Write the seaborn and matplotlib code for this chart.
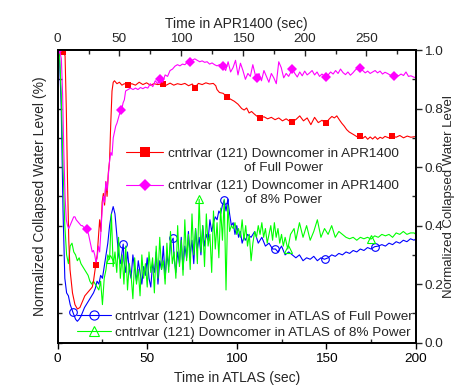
import numpy as np
import seaborn as sns
import matplotlib
matplotlib.use('Agg')
import matplotlib.pyplot as plt
from matplotlib.ticker import MultipleLocator, FormatStrFormatter
from matplotlib.legend_handler import HandlerLine2D

# ATLAS, full power (bottom time axis, sec)
atlas_full_t = [0, 1, 2, 3, 4, 5, 6, 7, 8.5, 10,
                11, 12, 13, 14, 15, 16, 17, 18, 19, 20,
                21, 22, 23, 24, 25, 26, 27, 28, 29, 30,
                31, 32, 33, 34, 35, 36.6, 37, 38, 39, 40,
                41, 42, 43, 44, 45, 46, 47, 48, 49, 50,
                51, 52, 53, 54, 55, 56, 57, 58, 59, 60,
                61, 62, 63, 64.5, 65, 66, 67, 68, 69, 70,
                71, 72, 73, 74, 75, 76, 77, 78, 79, 80,
                81, 82, 83, 84, 85, 86, 87, 88, 89, 90,
                91, 92, 93, 94, 95, 96, 97, 98, 99, 100,
                101, 102, 103, 104, 105, 106, 108, 110, 112, 114,
                116, 118, 120, 121.6, 123, 125, 127, 129, 131, 133,
                135, 137, 139, 141, 143, 145, 147, 149, 151, 153,
                155, 157, 159, 161, 163, 165, 167, 169, 171, 173,
                175, 177, 179, 181, 183, 185, 187, 189, 191, 193,
                195, 197, 199, 200]
atlas_full_level = [100, 98, 80, 45, 22, 17, 16, 13, 10.4, 8,
                    7.3, 8, 9, 10.5, 12, 13, 14, 15, 16, 17,
                    18.5, 21, 20, 23, 22, 26, 30, 34, 40, 44,
                    46.5, 44, 37, 30, 27, 33.7, 28, 24, 31, 25,
                    22, 30, 25, 21, 28, 24, 20, 26, 23, 29,
                    22, 19, 27, 24, 31, 20, 28, 25, 33, 22,
                    30, 26, 34, 35.7, 29, 24, 31, 27, 36, 25,
                    33, 29, 38, 30, 35, 27, 39, 32, 36, 30,
                    40, 33, 37, 35, 42, 38, 41, 43, 42, 45,
                    44, 47, 48.7, 45, 49, 44, 40, 41, 37, 40,
                    36, 38, 34, 36, 35, 37, 36, 38, 34, 36,
                    33, 34, 32, 32, 31, 33, 30, 31, 30, 29,
                    30, 28, 29, 28.5, 29.5, 28, 29, 28.5, 29, 30,
                    29.5, 30.5, 30, 31, 30.5, 31.5, 31, 32, 31.5, 32.5,
                    32, 32.8, 33, 33.5, 33, 34, 33.5, 34.5, 34, 35,
                    34.5, 35.5, 35, 35.5]
atlas_full_marks = [8.5, 36.6, 64.5, 93, 121.6, 149, 177]

# ATLAS, 8% power
atlas_8_t = [0, 1, 2, 3, 4, 5, 6, 7, 8, 9,
             10, 11, 12, 13, 14, 15, 16, 17, 18, 19,
             20, 21, 22, 23, 24, 25, 26, 27, 28, 29,
             30, 31, 32, 33, 34, 35, 36, 37, 38, 39,
             40, 41, 42, 43, 44, 45, 46, 47, 48, 49,
             50, 51, 52, 53, 54, 55, 56, 57, 58, 59,
             60, 61, 62, 63, 64, 65, 66, 67, 68, 69,
             70, 71, 72, 73, 74, 75, 76, 77, 78, 79,
             80, 81, 82, 83, 84, 85, 86, 87, 88, 89,
             90, 91, 92, 93, 94, 95, 96, 97, 98, 99,
             100, 101, 102, 103, 104, 105, 106, 107, 108, 109,
             110, 111, 112, 113, 114, 115, 116, 117, 118, 119,
             120, 121, 122, 123, 124, 125, 126, 127, 128.5, 130,
             132, 133, 135, 137, 139, 141, 143, 145, 147, 149,
             151, 153, 155, 157, 159, 161, 163, 165, 167, 169,
             171, 173, 175, 177, 179, 181, 183, 185, 187, 189,
             191, 193, 195, 197, 199, 200]
atlas_8_level = [100, 99, 85, 60, 40, 30, 27, 33, 34, 31,
                 30, 28, 29, 27, 26, 25, 24, 23, 21, 20,
                 21, 20, 19, 18, 21, 13, 22, 25, 30, 28.5,
                 44, 26, 31, 24, 36, 22, 30, 20, 33, 18,
                 27, 23, 15, 29, 20, 25, 16, 30, 22, 27,
                 19, 31, 24, 29, 17, 33, 22, 36, 25, 28,
                 20, 34, 24, 38, 27, 31, 22, 40, 26, 35,
                 23, 42, 28, 37, 25, 44, 30, 39, 27, 49,
                 31, 40, 26, 44, 33, 37, 24, 45, 32, 41,
                 29, 46, 35, 49, 18, 47, 38, 40, 39, 41,
                 37, 39, 36, 42, 35, 40, 33, 37, 28, 34,
                 38, 36, 40, 37, 41, 36, 39, 34, 37, 40,
                 35, 41, 36, 39, 34, 37, 33, 36, 32, 37,
                 39, 35, 41, 36, 40, 35, 38, 42, 36, 39,
                 37, 40, 36, 38, 37, 36, 35.5, 36, 35, 36,
                 35.5, 36, 35.4, 36.5, 36, 37, 36.5, 37, 36, 37.5,
                 37, 38, 37, 37.5, 37.5, 37]
atlas_8_marks = [29, 79, 128.5, 175]

# APR1400, full power (top time axis, sec)
apr_full_t = [0, 2, 4.5, 6, 7, 8, 9, 10, 12, 14,
              16, 18, 20, 22, 24, 26, 28, 29, 30.8, 32,
              33, 34, 35, 36, 37, 38, 39, 40, 41, 42,
              43, 44, 45, 46, 48, 50, 52, 54, 57, 60,
              63, 66, 69, 72, 75, 78, 81, 85, 88, 91,
              94, 97, 100, 103, 106, 109, 111, 114, 117, 120,
              123, 126, 128, 129, 131, 134, 137, 140, 143, 146,
              149, 151, 153, 155, 157, 159, 161, 164, 167, 170,
              173, 176, 179, 182, 185, 188, 190, 193, 196, 199,
              202, 205, 208, 211, 214, 217, 220, 222, 224, 226,
              228, 230, 232, 234, 236, 238, 240, 243, 245, 247,
              249, 251, 253, 255, 257, 259, 261, 263, 265, 268,
              271, 274, 277, 280, 283, 286, 289]
apr_full_level = [100, 100, 99.5, 98, 80, 55, 35, 25, 17, 13,
                  11.5, 12, 14, 16, 17, 18, 19, 21, 26.5, 30,
                  36, 42, 38, 48, 51, 47, 55, 50, 58, 62,
                  75, 86, 89, 89.5, 88.5, 89, 88, 88.5, 88, 88.5,
                  88, 89, 88.2, 88.8, 88, 88.5, 88.2, 88.5, 88, 88.7,
                  88, 88.5, 88.2, 88.6, 87.8, 88.4, 87.2, 88.6, 88.2, 88.8,
                  88.4, 88.6, 87.8, 86.5, 85.5, 85.2, 84, 83.2, 82.5, 81.5,
                  80, 79.5, 80.2, 78.5, 79, 78.2, 77.5, 76.7, 77.2, 76.5,
                  77, 76.2, 76.8, 75.8, 76.5, 75.6, 75.5, 76.3, 77.5, 75.8,
                  76.8, 74.5, 77, 75.2, 76, 75, 76.5, 77.3, 76.8, 77.5,
                  76.2, 75, 74, 72.8, 72, 71.5, 71, 70.2, 70.6, 69.8,
                  70.5, 69.5, 70.3, 69.6, 70.4, 69.5, 70.2, 69.8, 70.5, 70,
                  70.6, 70.2, 70.8, 70, 70.6, 70.2, 70.4]
apr_full_marks = [4.5, 30.8, 57, 85, 111, 137, 164, 190, 217, 245, 271]

# APR1400, 8% power
apr_8_t = [0, 1, 2, 3, 4, 5, 6, 7, 8, 9,
           10, 11, 12, 13, 14, 15, 16, 17, 18, 19,
           20, 21, 22, 23.5, 25, 26, 27, 28, 29, 30,
           31, 32, 33, 34, 35, 36, 37, 38, 39, 40,
           41, 42, 43, 44, 45, 46, 47, 48, 50, 51,
           52, 53, 54, 55, 57, 59, 61, 63, 65, 67,
           69, 71, 73, 75, 77, 79, 81, 83, 85, 87,
           89, 91, 93, 95, 97, 99, 101, 103, 105, 107,
           109, 111, 113, 115, 117, 119, 121, 123, 125, 127,
           129, 131, 134, 136, 138, 140, 142, 144, 146, 148,
           150, 152, 154, 156, 158, 160, 161, 163, 165, 167,
           169, 171, 173, 175, 177, 179, 181, 183, 185, 187,
           190, 192, 194, 196, 198, 200, 202, 204, 206, 208,
           210, 212, 214, 217, 219, 221, 223, 225, 227, 229,
           231, 233, 235, 237, 239, 241, 243, 245, 247, 249,
           251, 253, 255, 257, 259, 261, 263, 265, 267, 269,
           272, 274, 276, 278, 280, 282, 284, 286, 288, 290]
apr_8_level = [100, 100, 99, 97, 85, 65, 50, 42, 40, 39,
               40, 41, 42, 43, 43, 42, 41.5, 41, 40.5, 40,
               40, 39.5, 39, 39, 37, 35, 33, 31, 31.5, 30,
               27.5, 29, 33, 31, 38, 45, 50, 48, 55, 52,
               57, 62, 65, 64, 70, 72, 74, 75, 78, 79.5,
               80, 82, 83, 86, 86.5, 87, 86.5, 87, 86.5, 87.2,
               86.8, 87.3, 87, 88.5, 87.5, 89.5, 88.5, 90, 89, 91.5,
               91, 93, 93.5, 94.5, 95, 94.6, 95.2, 95, 95.8, 96,
               96.5, 97, 96.5, 96, 96.3, 95.8, 96, 95.2, 95.6, 95,
               94.6, 95, 94.6, 93, 96, 92.5, 94, 96.5, 91.5, 95.5,
               93, 90, 92, 91, 95, 91.5, 90.4, 92, 89.5, 93,
               91, 89, 92, 90.5, 88.5, 96, 94, 90.5, 92, 91,
               93.5, 92, 90.8, 92.5, 91.2, 92.8, 91.5, 92.2, 93, 91.5,
               92.5, 91, 91.8, 90.7, 91.5, 92.5, 91.8, 93, 92, 93.5,
               92.3, 91.6, 92.5, 91.4, 92.2, 93.2, 93.8, 94, 93, 92.2,
               92.8, 92, 92.5, 93, 92.2, 92.8, 91.8, 92.4, 92, 91.5,
               91, 91.6, 91.2, 91.8, 91.3, 92.5, 91, 91.2, 90.8, 90.5]
apr_8_marks = [0, 23.5, 51, 83, 107, 134, 161, 190, 217, 245, 272]

labels = ['cntrlvar (121) Downcomer in APR1400\nof Full Power',
          'cntrlvar (121) Downcomer in APR1400\nof 8% Power',
          'cntrlvar (121) Downcomer in ATLAS of Full Power',
          'cntrlvar (121) Downcomer in ATLAS of 8% Power']

sns.set_style('ticks')
plt.rcParams['font.family'] = ['Liberation Sans', 'DejaVu Sans']
plt.rcParams['font.size'] = 9.7
FS = 9.7


# legend handle lined up with the first line of a two-line label
class FirstLineHandler(HandlerLine2D):
    def create_artists(self, legend, orig_handle, xdescent, ydescent, width, height, fontsize, trans):
        arts = super().create_artists(legend, orig_handle, xdescent, ydescent, width, height, fontsize, trans)
        for a in arts:
            a.set_ydata(np.asarray(a.get_ydata()) + 0.6 * fontsize)
        return arts


def idx(times, marks):
    return [times.index(m) for m in marks]


fig = plt.figure(figsize=(4.54, 3.85), dpi=100)
ax = fig.add_axes([0.127, 0.110, 0.789, 0.760])
ax_top = ax.twiny()
ax_right = ax.twinx()

# APR1400 curves on the top axis
sns.lineplot(x=apr_full_t, y=apr_full_level, ax=ax_top, color='#ff0000', lw=0.8,
             marker='s', markersize=5, markeredgewidth=0, markevery=idx(apr_full_t, apr_full_marks),
             errorbar=None, legend=False)
sns.lineplot(x=apr_8_t, y=apr_8_level, ax=ax_top, color='#ff00ff', lw=0.8,
             marker='D', markersize=5, markeredgewidth=0, markevery=idx(apr_8_t, apr_8_marks),
             errorbar=None, legend=False)

# ATLAS curves on the bottom axis
sns.lineplot(x=atlas_full_t, y=atlas_full_level, ax=ax, color='#0000ff', lw=0.8,
             marker='o', markersize=5.5, markerfacecolor='none', markeredgecolor='#0000ff',
             markeredgewidth=0.8, markevery=idx(atlas_full_t, atlas_full_marks),
             errorbar=None, legend=False)
sns.lineplot(x=atlas_8_t, y=atlas_8_level, ax=ax, color='#00ff00', lw=0.8,
             marker='^', markersize=6, markerfacecolor='none', markeredgecolor='#00ff00',
             markeredgewidth=0.8, markevery=idx(atlas_8_t, atlas_8_marks),
             errorbar=None, legend=False)

ax.set_xlim(0, 200)
ax.set_ylim(0, 100)
ax_top.set_xlim(0, 290)
ax_top.set_ylim(0, 100)
ax_right.set_ylim(0, 1.0)

ax.set_xlabel('Time in ATLAS (sec)', fontsize=10)
ax.set_ylabel('Normalized Collapsed Water Level (%)', fontsize=10)
ax_top.set_xlabel('Time in APR1400 (sec)', fontsize=10)
ax_right.set_ylabel('Normalized Collapsed Water Level', fontsize=9.5, labelpad=0)
ax_top.set_ylabel('')

ax.xaxis.set_major_locator(MultipleLocator(50))
ax.xaxis.set_minor_locator(MultipleLocator(25))
ax.yaxis.set_major_locator(MultipleLocator(20))
ax.yaxis.set_minor_locator(MultipleLocator(10))
ax_top.xaxis.set_major_locator(MultipleLocator(50))
ax_top.xaxis.set_minor_locator(MultipleLocator(25))
ax_right.yaxis.set_major_locator(MultipleLocator(0.2))
ax_right.yaxis.set_minor_locator(MultipleLocator(0.1))
ax_right.yaxis.set_major_formatter(FormatStrFormatter('%.1f'))

for a in (ax, ax_top, ax_right):
    for s in a.spines.values():
        s.set_visible(True)
        s.set_linewidth(1.1)
        s.set_color('black')

ax.tick_params(which='major', direction='out', length=4, width=1, labelsize=FS, colors='black')
ax.tick_params(which='minor', direction='in', length=3, width=1)
ax.tick_params(top=False, right=False, which='both')
ax_top.tick_params(which='both', direction='in', top=True, bottom=False, left=False, right=False,
                   labelleft=False, labelsize=FS)
ax_top.tick_params(which='major', length=4, width=1)
ax_top.tick_params(which='minor', length=3, width=1)
ax_top.set_yticks([])
ax_right.tick_params(which='major', direction='out', length=4, width=1, labelsize=FS, pad=2)
ax_right.tick_params(which='minor', direction='in', length=3, width=1)
ax_right.tick_params(which='both', left=False, top=False, bottom=False)

# legends without frames
top_lines = ax_top.get_lines()
leg1 = ax_right.legend(top_lines[:2], labels[:2], loc='upper left', bbox_to_anchor=(0.19, 0.666),
                       frameon=False, borderpad=0, borderaxespad=0, handlelength=2.8,
                       handletextpad=0.35, labelspacing=0.5, markerscale=1.3, fontsize=FS,
                       handler_map={l: FirstLineHandler() for l in top_lines[:2]})
for t in leg1.get_texts():
    t.set_multialignment('center')
ax_right.add_artist(leg1)

bot_lines = ax.get_lines()
leg2 = ax_right.legend(bot_lines[:2], labels[2:], loc='upper left', bbox_to_anchor=(0.054, 0.111),
                       frameon=False, borderpad=0, borderaxespad=0, handlelength=2.5,
                       handletextpad=0.35, labelspacing=0.27, markerscale=1.2, fontsize=FS)

fig.savefig('out.png', dpi=100)
